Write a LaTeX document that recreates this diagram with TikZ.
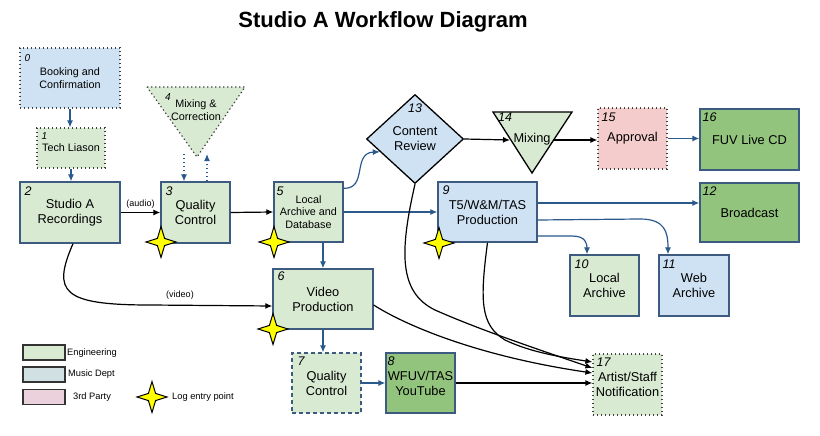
\documentclass[tikz,border=0pt]{standalone}
\usepackage{fontspec}
\setmainfont{Liberation Sans}
\usetikzlibrary{arrows.meta,calc,shapes.geometric}
\definecolor{bordc}{HTML}{3D5A80}
\definecolor{arrb}{HTML}{2A5A8C}
\definecolor{eng}{HTML}{D9EAD3}
\definecolor{mus}{HTML}{CFE2F3}
\definecolor{dgreen}{HTML}{93C47D}
\definecolor{pinkf}{HTML}{F4CCCC}
\definecolor{legmus}{HTML}{D0E0E3}
\definecolor{legpink}{HTML}{EAD1DC}
\definecolor{dotc}{HTML}{404040}
\definecolor{staryel}{HTML}{FFFF00}
\begin{document}
\begin{tikzpicture}[x=1pt,y=-1pt,
  box/.style={draw=bordc, line width=1.3pt, rectangle, inner sep=0pt, align=center, font=\fontsize{12.8}{15}\selectfont},
  dotpat/.style={dash pattern=on 1.3pt off 2.7pt},
  dotbox/.style={box, draw=dotc, dotpat, line width=1.2pt},
  smalltxt/.style={font=\fontsize{10.8}{12.5}\selectfont},
  bigtxt/.style={font=\fontsize{12.8}{15}\selectfont, align=center, inner sep=0pt},
  num/.style={anchor=north west, inner sep=0pt, font=\fontsize{12.5}{12.5}\selectfont\itshape},
  smallnum/.style={anchor=north west, inner sep=0pt, font=\fontsize{10}{10}\selectfont\itshape},
  barrow/.style={draw=arrb, line width=1.2pt, -{Latex[length=7pt,width=6pt]}},
  karrow/.style={draw=black, line width=1.2pt, -{Latex[length=7pt,width=6pt]}},
  dotarrow/.style={draw=arrb, line width=1.2pt, dotpat, -{Latex[length=7pt,width=6pt]}},
  edgelab/.style={font=\fontsize{9}{9}\selectfont, inner sep=0pt},
  legbox/.style={draw=black!80, line width=1.3pt, minimum width=42pt, minimum height=15pt, inner sep=0pt},
  legtxt/.style={font=\fontsize{9.3}{9.3}\selectfont, inner sep=0pt, anchor=west},
  logstar/.pic={\draw[fill=staryel, line width=1pt, line join=miter]
     (0,-15.5) -- (3.6,-3.6) -- (15,0) -- (3.6,3.6) -- (0,15.5) -- (-3.6,3.6) -- (-15,0) -- (-3.6,-3.6) -- cycle;}
]
\fill[white] (0,0) rectangle (820,436);
\useasboundingbox (0,0) rectangle (820,436);

% title
\node[font=\fontsize{22}{22}\selectfont\bfseries, inner sep=0pt] (title) at (383,22) {Studio A Workflow Diagram};

% triangles (drawn shapes)
\path[draw=dotc, dotpat, line width=1.2pt, fill=eng] (147,87) -- (245,87) -- (197,157) -- cycle;
\node[smalltxt, align=center, inner sep=0pt] (n4) at (196,110) {Mixing \&\\Correction};
\node[smallnum] (k4) at (165,93) {4};
\coordinate (t4l) at (184,154);
\coordinate (t4r) at (207,154);

\path[draw=black, line width=1.3pt, fill=eng] (493,112) -- (572,112) -- (532,173) -- cycle;
\node[bigtxt] (n14) at (532,139) {Mixing};
\node[num] (k14) at (498,113) {14};
\coordinate (t14l) at (510,140);
\coordinate (t14r) at (553,140);

% diamond
\node[diamond, draw=black, line width=1.3pt, fill=mus, minimum width=97pt, minimum height=89pt, inner sep=0pt, aspect=1.09, align=center, font=\fontsize{12.8}{15}\selectfont] (n13) at (415,139) {Content\\Review};
\node[num] (k13) at (408,104) {13};

% boxes
\node[dotbox, fill=mus, smalltxt, minimum width=100pt, minimum height=60pt] (n0) at (70,78) {Booking and\\Confirmation};
\node[smallnum] (k0) at ($(n0.north west)+(5,7)$) {0};
\node[dotbox, fill=eng, smalltxt, minimum width=68pt, minimum height=40pt] (n1) at (71,148) {Tech Liason};
\node[smallnum] (k1) at ($(n1.north west)+(5,5)$) {1};
\node[box, fill=eng, minimum width=100pt, minimum height=61pt] (n2) at (70,212.5) {Studio A\\Recordings};
\node[num] (k2) at ($(n2.north west)+(5,5)$) {2};
\node[box, fill=eng, minimum width=69pt, minimum height=61pt] (n3) at (195.5,212.5) {Quality\\Control};
\node[num] (k3) at ($(n3.north west)+(5,5)$) {3};
\node[box, fill=eng, smalltxt, minimum width=69pt, minimum height=60pt] (n5) at (308.5,212) {Local\\Archive and\\Database};
\node[num] (k5) at ($(n5.north west)+(3,5)$) {5};
\node[box, fill=eng, minimum width=100pt, minimum height=60pt] (n6) at (323,299) {Video\\Production};
\node[num] (k6) at ($(n6.north west)+(5,3)$) {6};
\node[box, fill=eng, dashed, dash pattern=on 4pt off 3pt, minimum width=69pt, minimum height=60pt] (n7) at (326.5,383) {Quality\\Control};
\node[num] (k7) at ($(n7.north west)+(6,4)$) {7};
\node[box, fill=dgreen, minimum width=69pt, minimum height=60pt] (n8) at (420.5,383) {WFUV/TAS\\YouTube};
\node[num] (k8) at ($(n8.north west)+(2,4)$) {8};
\node[box, fill=mus, minimum width=99pt, minimum height=60pt] (n9) at (487.5,212) {T5/W\&M/TAS\\Production};
\node[num] (k9) at ($(n9.north west)+(5,4)$) {9};
\node[box, fill=eng, minimum width=69pt, minimum height=61pt] (n10) at (604.5,285.5) {Local\\Archive};
\node[num] (k10) at ($(n10.north west)+(5,5)$) {10};
\node[box, fill=mus, minimum width=70pt, minimum height=61pt] (n11) at (694,285.5) {Web\\Archive};
\node[num] (k11) at ($(n11.north west)+(4,5)$) {11};
\node[box, fill=dgreen, minimum width=99pt, minimum height=59pt] (n12) at (749.5,212.5) {Broadcast};
\node[num] (k12) at ($(n12.north west)+(3,4)$) {12};
\node[dotbox, fill=pinkf, minimum width=69pt, minimum height=61pt] (n15) at (632.5,138.5) {Approval};
\node[num] (k15) at ($(n15.north west)+(4,5)$) {15};
\node[box, fill=dgreen, minimum width=99pt, minimum height=61pt] (n16) at (749.5,139.5) {FUV Live CD};
\node[num] (k16) at ($(n16.north west)+(3,4)$) {16};
\node[dotbox, fill=eng, minimum width=69pt, minimum height=61pt] (n17) at (627.5,384.5) {Artist/Staff\\Notification};
\node[num] (k17) at ($(n17.north west)+(4,4)$) {17};

% connectors
\draw[barrow] (n0.south) -- (n0.south |- n1.north);
\draw[barrow] (n1.south) -- (n1.south |- n2.north);
\draw[karrow] (n2.east) -- node[edgelab, above=4pt] {(audio)} (n3.west);
\draw[dotarrow] (t4l) -- (t4l |- n3.north);
\draw[dotarrow] (t4r |- n3.north) -- (t4r);
\draw[karrow] (n3.east) -- (n5.west);
\draw[barrow] ($(n5.north east)+(0,7)$) .. controls (368,189) and (352,153) .. (n13.200);
\draw[barrow] (n5.east) -- (n9.west);
\draw[barrow] (n6.north |- n5.south) -- (n6.north);
\draw[karrow] ($(n2.south)+(3,0)$) .. controls (52,292) and (62,305) .. (150,305) -- ($(n6.west)+(0,7)$);
\node[edgelab] (lvid) at (180,295) {(video)};
\draw[barrow] (n6.south) -- (n6.south |- n7.north);
\draw[barrow] (n7.east) -- (n8.west);
\draw[karrow] (n8.east) -- (n8.east -| n17.west);
\draw[karrow] ($(n6.east)+(0,6)$) .. controls (400,322) and (470,355) .. ($(n17.west)+(0,-11.5)$);
\draw[karrow] (n13.south) .. controls (400,250) and (398,292) .. (435,310) .. controls (480,330) and (540,350) .. ($(n17.west)+(0,-16.5)$);
\draw[karrow] (n9.south) .. controls (480,300) and (480,325) .. (505,340) .. controls (530,352) and (560,357) .. ($(n17.west)+(0,-22.5)$);
\draw[karrow] (n13.east) -- (t14l);
\draw[karrow] (t14r) -- (t14r -| n15.west);
\draw[barrow] (n15.east) -- (n15.east -| n16.west);
\draw[barrow] ($(n9.east)+(0,-9)$) -- ($(n9.east -| n12.west)+(0,-9)$);
\draw[barrow] ($(n9.east)+(0,8)$) -- (640,219) .. controls (665,219) and (668,232) .. ($(n11.north)+(-26,0)$);
\draw[barrow] ($(n9.east)+(0,24)$) -- (572,236) .. controls (586,236) and (587,244) .. ($(n10.north)+(-17.5,0)$);

% log stars
\pic at (161,242) {logstar};
\pic at (274,242) {logstar};
\pic at (273,329) {logstar};
\pic at (439,243) {logstar};

% legend
\node[legbox, fill=eng] (lg1) at (44,352.5) {};
\node[legtxt] (lt1) at (67,353) {Engineering};
\node[legbox, fill=legmus] (lg2) at (44,374.5) {};
\node[legtxt] (lt2) at (68,374.5) {Music Dept};
\node[legbox, fill=legpink] (lg3) at (44,397) {};
\node[legtxt] (lt3) at (73,397) {3rd Party};
\pic at (152,397) {logstar};
\node[legtxt] (lt4) at (172,397) {Log entry point};
\end{tikzpicture}
\end{document}
